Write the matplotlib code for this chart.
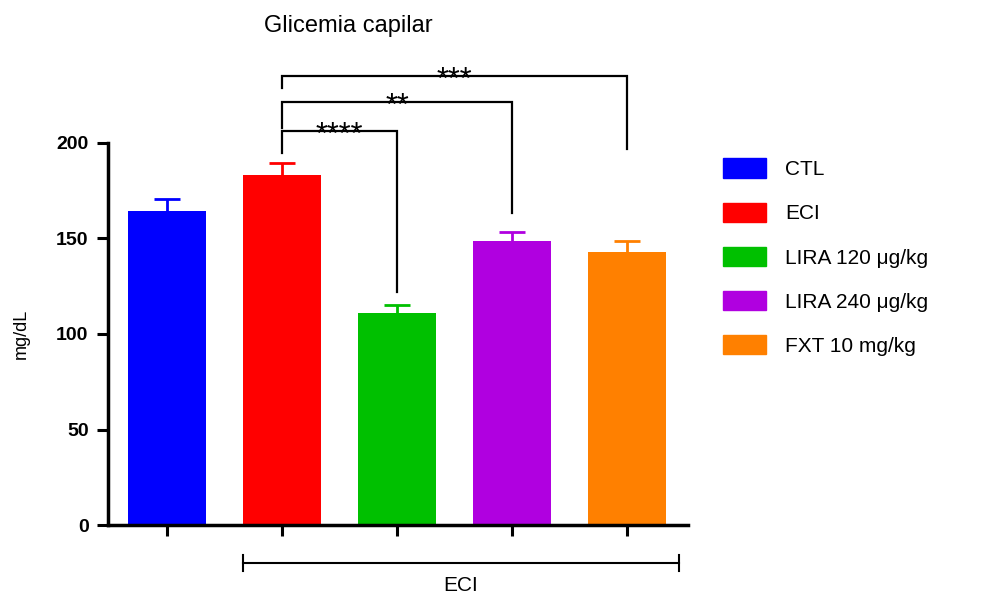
import matplotlib.pyplot as plt
import matplotlib.transforms as mtransforms

plt.rcParams['font.family'] = ['Liberation Sans', 'DejaVu Sans']

groups = ['CTL', 'ECI', 'LIRA 120 μg/kg', 'LIRA 240 μg/kg', 'FXT 10 mg/kg']
means = [164.2, 183.2, 110.8, 148.7, 143.0]
sem = [6.5, 6.3, 4.2, 4.5, 5.8]
colors = ['#0000ff', '#ff0000', '#00c000', '#b000e0', '#ff8000']

# significance comparisons: (from, to, left leg bottom, top, right leg bottom, label)
comparisons = [
    (1, 2, 194.8, 206.5, 122.0, '****'),
    (1, 3, 208.0, 221.7, 163.4, '**'),
    (1, 4, 229.0, 235.0, 197.0, '***'),
]

fig = plt.figure(figsize=(10.03, 5.99), dpi=100)
ax = fig.add_axes([108/1003, 74/599, 580/1003, 382/599])

x = list(range(len(groups)))
ax.bar(x, means, width=0.68, color=colors, edgecolor='none', zorder=2)
for i in x:
    line, caps, bars = ax.errorbar(i, means[i], yerr=[[0], [sem[i]]], color=colors[i],
                                   capsize=9.5, elinewidth=2, capthick=2, zorder=1)
    caps[0].set_visible(False)

ax.set_xlim(-0.513, 4.53)
ax.set_ylim(0, 200)
ax.set_yticks([0, 50, 100, 150, 200])
ax.set_xticks(x)
ax.set_xticklabels([])
for s in ['top', 'right']:
    ax.spines[s].set_visible(False)
for s in ['left', 'bottom']:
    ax.spines[s].set_linewidth(2.5)
ax.tick_params(axis='both', length=8, width=2.2)
ax.tick_params(axis='y', labelsize=14, pad=6)
for lab in ax.get_yticklabels():
    lab.set_fontweight('bold')
ax.set_ylabel('mg/dL', fontsize=13, labelpad=19)

# brackets
for a, b, la, top, lb, lab in comparisons:
    ax.plot([a, a, b, b], [la, top, top, lb], color='black', lw=1.6,
            clip_on=False, solid_joinstyle='miter')
    ax.annotate(lab, xy=((a + b) / 2, top), xytext=(0, -13),
                textcoords='offset pixels', ha='center', va='baseline',
                fontsize=22, annotation_clip=False)

# ECI group bar under the axis
trans = mtransforms.blended_transform_factory(ax.transData, ax.transAxes)
y0 = -0.0995
ax.plot([0.66, 4.45], [y0, y0], color='black', lw=1.5, transform=trans, clip_on=False)
for xe in [0.66, 4.45]:
    ax.plot([xe, xe], [y0 - 0.022, y0 + 0.022], color='black', lw=1.5,
            transform=trans, clip_on=False)
ax.text((0.66 + 4.45) / 2, -0.158, 'ECI', transform=trans, ha='center',
        va='center', fontsize=15)

fig.text(348/1003, 1 - 26/599, 'Glicemia capilar', ha='center', va='center',
         fontsize=17)

# legend
handles = [plt.Rectangle((0, 0), 1, 1, color=c) for c in colors]
fig.legend(handles, groups, loc='upper left', bbox_to_anchor=(715/1003, 1 - 150/599),
           frameon=False, fontsize=15, handlelength=2.07, handleheight=1.06,
           labelspacing=1.12, handletextpad=0.91, borderaxespad=0)

fig.savefig('out.png', dpi=100)
